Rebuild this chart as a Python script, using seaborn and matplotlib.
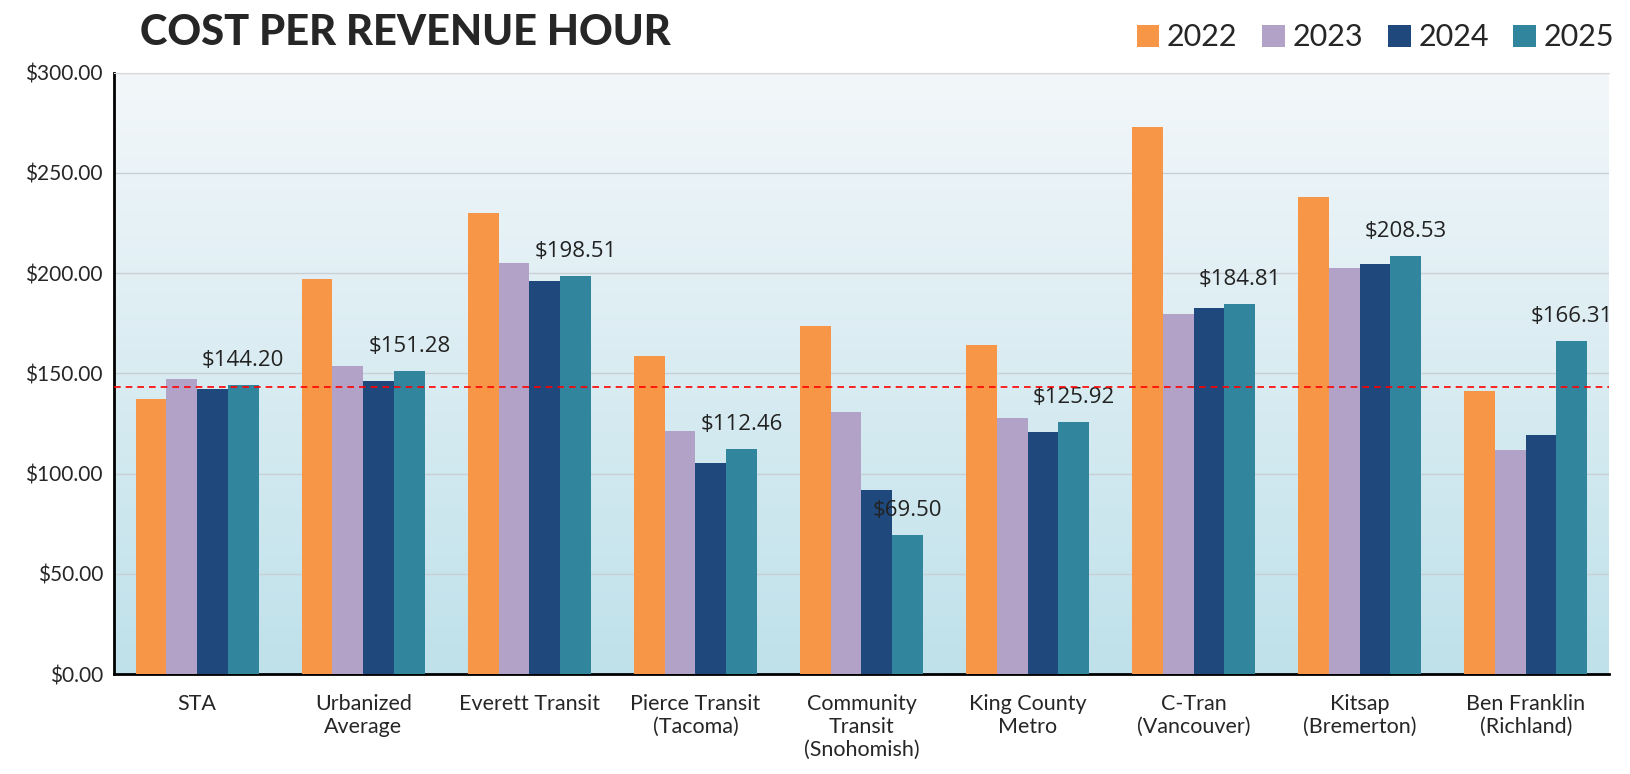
import numpy as np
import pandas as pd
import matplotlib.pyplot as plt
import seaborn as sns
from matplotlib.colors import LinearSegmentedColormap

agencies = ['STA', 'Urbanized\nAverage', 'Everett Transit', 'Pierce Transit\n(Tacoma)',
            'Community\nTransit\n(Snohomish)', 'King County\nMetro', 'C-Tran\n(Vancouver)',
            'Kitsap\n(Bremerton)', 'Ben Franklin\n(Richland)']
years = ['2022', '2023', '2024', '2025']
v2022 = [137.5, 197.0, 229.9, 158.8, 173.8, 164.0, 273.0, 238.2, 141.2]
v2023 = [147.4, 153.6, 205.0, 121.4, 130.8, 127.7, 179.6, 202.4, 111.6]
v2024 = [142.0, 146.3, 196.0, 105.3, 91.9, 121.0, 182.7, 204.5, 119.4]
v2025 = [144.20, 151.28, 198.51, 112.46, 69.50, 125.92, 184.81, 208.53, 166.31]
ref_line = 143.0
colors = ['#f79646', '#b3a2c7', '#1f497d', '#31859c']

rows = []
for yr, vals in zip(years, [v2022, v2023, v2024, v2025]):
    for a, v in zip(agencies, vals):
        rows.append({'Agency': a, 'Year': yr, 'Cost': v})
df = pd.DataFrame(rows)

sns.set_style('white')
plt.rcParams['font.family'] = ['Lato', 'DejaVu Sans']

fig = plt.figure(figsize=(16.3, 7.74), dpi=100)
ax = fig.add_axes([0.070, 0.129, 0.917, 0.777])

# gradient background
grad = np.linspace(0, 1, 256).reshape(-1, 1)
cmap = LinearSegmentedColormap.from_list('bg', ['#bfe1ea', '#f3f7fa'])
ax.imshow(grad, cmap=cmap, aspect='auto', extent=[-0.5, 8.5, 0, 300],
          origin='lower', zorder=0)

sns.barplot(data=df, x='Agency', y='Cost', hue='Year', palette=colors,
            width=0.74, gap=0, saturation=1, linewidth=0, ax=ax, zorder=3, legend=True)

ax.set_xlim(-0.5, 8.5)
ax.set_ylim(0, 300)
ax.set_yticks(np.arange(0, 301, 50))
ax.set_yticklabels([f'${t:.2f}' for t in np.arange(0, 301, 50)], fontsize=15)
ax.grid(axis='y', color='#c8d0d4', linewidth=1, zorder=1)
ax.set_axisbelow(True)
ax.tick_params(axis='x', labelsize=15.5, length=0, pad=14)
ax.tick_params(axis='y', length=0, pad=8)
ax.set_xlabel('')
ax.set_ylabel('')

for s in ['left', 'bottom']:
    ax.spines[s].set_color('black')
    ax.spines[s].set_linewidth(2)
ax.spines['top'].set_color('#d9d9d9')
ax.spines['right'].set_visible(False)

ax.axhline(ref_line, color='red', linestyle=(0, (4, 3)), linewidth=1.2, zorder=5)

ax.bar_label(ax.containers[3], labels=[f'${v:.2f}' for v in v2025],
             padding=10, fontsize=16, color='#222222', family='Open Sans')

leg = ax.legend(loc='lower right', bbox_to_anchor=(1.018, 1.0), ncol=4, frameon=False,
                fontsize=22, handlelength=0.75, handleheight=0.75, handletextpad=0.25,
                columnspacing=0.8, borderaxespad=0.3)

fig.text(0.086, 0.957, 'COST PER REVENUE HOUR', fontsize=30, fontweight='black',
         va='center', ha='left')

fig.savefig('out.png', dpi=100)
